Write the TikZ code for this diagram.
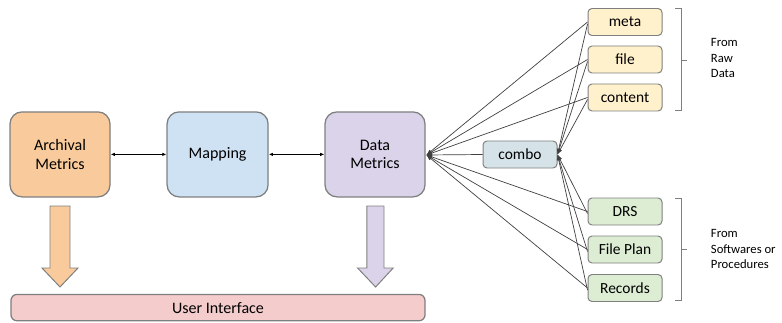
\documentclass[tikz,border=0pt]{standalone}
\usepackage{fontspec}
\setmainfont{Carlito}
\usepackage{xcolor}
\usetikzlibrary{positioning,calc,arrows.meta}

\definecolor{archfill}{HTML}{F9CB9C}
\definecolor{mapfill}{HTML}{CFE2F3}
\definecolor{datafill}{HTML}{DAD3EA}
\definecolor{uifill}{HTML}{F4CCCC}
\definecolor{rawfill}{HTML}{FFF1CC}
\definecolor{combofill}{HTML}{D5E3E8}
\definecolor{swfill}{HTML}{DDEDD3}
\definecolor{edgegray}{HTML}{7F7F7F}
\definecolor{linegray}{HTML}{404040}

\begin{document}
\begin{tikzpicture}[
    bigbox/.style={draw=edgegray, line width=0.9pt, rounded corners=0.3cm,
        minimum width=2.5cm, minimum height=2.125cm, align=center, font=\fontsize{11.4}{13}\selectfont},
    smallbox/.style={draw=edgegray, line width=0.7pt, rounded corners=0.1cm,
        minimum width=1.85cm, minimum height=0.675cm, font=\fontsize{11}{13}\selectfont},
    feed/.style={draw=linegray, line width=0.5pt, -{Latex[length=4pt,width=3pt]}},
    link/.style={draw=black, line width=0.6pt, {Latex[length=3pt,width=2.5pt]}-{Latex[length=3pt,width=2.5pt]}},
    bigarrow/.style={draw=edgegray, line width=0.7pt},
    side/.style={align=left, anchor=west, font=\fontsize{9}{11.2}\selectfont}
]
    \useasboundingbox (0, 0) rectangle (19.55, 8.05);

    % Main blocks
    \node [bigbox, fill=archfill] (arch) at (1.5, 4.19) {Archival\\Metrics};
    \node [bigbox, fill=mapfill, minimum width=2.525cm] (map) at (5.44, 4.19) {Mapping};
    \node [bigbox, fill=datafill] (data) at (9.375, 4.19) {Data\\Metrics};
    \draw [link] (arch) -- (map);
    \draw [link] (map) -- (data);

    % User interface
    \node [draw=edgegray, line width=0.9pt, rounded corners=0.15cm, fill=uifill,
        minimum width=10.35cm, minimum height=0.66cm, font=\fontsize{11.4}{13}\selectfont]
        (ui) at (5.45, 0.36) {User Interface};
    \draw [bigarrow, fill=archfill] (1.25, 2.9) -- (1.75, 2.9) -- (1.75, 1.35) -- (1.95, 1.35)
        -- (1.5, 0.875) -- (1.05, 1.35) -- (1.25, 1.35) -- cycle;
    \draw [bigarrow, fill=datafill] (9.17, 2.9) -- (9.6, 2.9) -- (9.6, 1.35) -- (9.83, 1.35)
        -- (9.39, 0.875) -- (8.94, 1.35) -- (9.17, 1.35) -- cycle;

    % Sources
    \coordinate (hub) at (10.66, 4.175);
    \node [smallbox, fill=rawfill] (meta) at (15.625, 7.5) {meta};
    \node [smallbox, fill=rawfill] (file) at (15.625, 6.5625) {file};
    \node [smallbox, fill=rawfill] (content) at (15.625, 5.6125) {content};
    \node [smallbox, fill=combofill] (combo) at (13.0, 4.1875) {combo};
    \node [smallbox, fill=swfill] (drs) at (15.625, 2.7625) {DRS};
    \node [smallbox, fill=swfill] (plan) at (15.625, 1.8125) {File Plan};
    \node [smallbox, fill=swfill] (records) at (15.625, 0.85) {Records};

    \foreach \src in {meta, file, content, combo, drs, plan, records}
        \draw [feed] (\src.west) -- (hub);
    \foreach \src in {meta, file, content, drs, plan, records}
        \draw [feed] ($(\src.west)+(0,-0.05)$) -- (combo.east);

    % Brackets
    \draw [edgegray, line width=0.6pt] (16.875, 7.85) -- (17.025, 7.85) -- (17.025, 5.3) -- (16.875, 5.3);
    \draw [edgegray, line width=0.6pt] (17.025, 6.55) -- (17.175, 6.55);
    \draw [edgegray, line width=0.6pt] (16.875, 3.1) -- (17.025, 3.1) -- (17.025, 0.55) -- (16.875, 0.55);
    \draw [edgegray, line width=0.6pt] (17.025, 1.825) -- (17.175, 1.825);
    \node [side] (raw) at (17.65, 6.6) {From\\Raw\\Data};
    \node [side] (soft) at (17.65, 1.82) {From\\Softwares or\\Procedures};
\end{tikzpicture}
\end{document}
